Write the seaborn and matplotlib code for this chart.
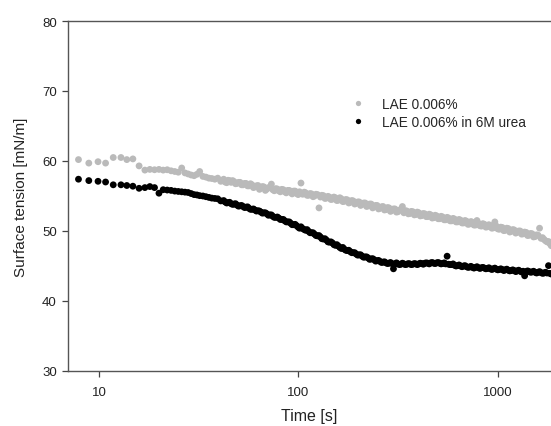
import numpy as np
import pandas as pd
import matplotlib
matplotlib.use("Agg")
import matplotlib.pyplot as plt
import seaborn as sns
from matplotlib.lines import Line2D

# ---- data ----
time_s = [7.9, 8.9, 9.9, 10.8, 11.8, 12.9, 13.8, 14.8, 15.9, 17.0,
          18, 19, 20, 21, 22, 23, 24, 25, 26, 27, 28, 29, 30,
          31, 32, 33.2, 34.4, 35.6, 36.8, 38.1, 39.4, 40.8, 42.2,
          43.7, 45.2, 46.8, 48.4, 50.1, 51.9, 53.7, 55.6, 57.5, 59.5,
          61.6, 63.8, 66, 68.3, 70.7, 73.2, 75.7, 78.4, 81.1, 84,
          86.9, 90, 93, 96.3, 99.7, 103, 107, 110.5, 114.4, 118.4,
          122.5, 126.8, 131, 135.8, 140.6, 145.5, 150.6, 155.8, 161.3, 167,
          172.8, 178.8, 185, 191.5, 198.3, 205, 212.4, 219.8, 227.5, 235.5,
          243.7, 252.2, 261, 270, 279.6, 289.4, 299.5, 310, 320.8, 332,
          343.6, 355.7, 368, 381, 394.4, 408.2, 422.5, 437.3, 452.6, 468.4,
          484.8, 501.8, 519.3, 537.5, 556.3, 575.8, 596, 616.8, 638.4, 660.8,
          684, 708, 732.7, 758.3, 784.9, 812.4, 840.8, 870.2, 900.7, 932.2,
          964.9, 998.7, 1033.6, 1069.8, 1107.2, 1146, 1186, 1227.6, 1270.6, 1315,
          1361, 1408.7, 1458, 1509, 1562, 1616.6, 1673, 1731.7, 1792.3, 1850]

lae = [60.2, 59.7, 59.9, 59.7, 60.5, 60.5, 60.2, 60.3, 59.3, 58.7,
       58.8, 58.75, 58.8, 58.7, 58.75, 58.6, 58.5, 58.4, 59.0, 58.3,
       58.15, 58.0, 57.9, 58.1, 58.5, 57.8, 57.7, 57.55, 57.5, 57.4,
       57.55, 57.1, 57.4, 56.9, 57.2, 57.2, 56.75, 56.95, 56.6, 56.8,
       56.45, 56.75, 56.2, 56.45, 55.95, 56.35, 55.8, 56.2, 56.7, 55.75,
       56.0, 55.6, 55.9, 55.45, 55.8, 55.3, 55.7, 55.2, 56.85, 55.55,
       55.1, 55.35, 54.9, 55.25, 53.3, 55.1, 54.65, 54.95, 54.5, 54.85,
       54.35, 54.75, 54.2, 54.5, 54.0, 54.35, 53.85, 54.15, 53.65, 54.0,
       53.5, 53.85, 53.3, 53.65, 53.15, 53.45, 53.0, 53.35, 52.8, 53.15,
       52.7, 53.0, 53.5, 52.9, 52.45, 52.8, 52.3, 52.7, 52.15, 52.5,
       52.05, 52.4, 51.85, 52.25, 51.75, 52.1, 51.6, 51.95, 51.45, 51.8,
       51.3, 51.65, 51.15, 51.5, 50.95, 51.35, 50.85, 51.5, 50.75, 51.05,
       50.55, 50.9, 50.4, 51.3, 50.3, 50.55, 50.05, 50.4, 49.85, 50.2,
       49.7, 50.0, 49.55, 49.85, 49.35, 49.65, 49.15, 49.45, 50.4, 49.05,
       48.6, 48.5, 47.9]

lae_urea = [57.4, 57.2, 57.1, 57.0, 56.6, 56.6, 56.5, 56.4, 56.1, 56.2,
            56.35, 56.2, 55.4, 55.9, 55.85, 55.8, 55.7, 55.65, 55.6, 55.55,
            55.5, 55.35, 55.2, 55.15, 55.05, 55.0, 54.9, 54.8, 54.7, 54.65,
            54.6, 54.3, 54.35, 54.0, 54.1, 53.8, 53.9, 53.55, 53.65, 53.35,
            53.45, 53.1, 53.15, 52.85, 52.85, 52.55, 52.6, 52.25, 52.3, 51.95,
            52.0, 51.65, 51.65, 51.3, 51.3, 50.9, 50.95, 50.55, 50.6, 50.2,
            50.2, 49.75, 49.75, 49.35, 49.35, 48.9, 48.9, 48.45, 48.45, 48.05,
            48.05, 47.65, 47.65, 47.25, 47.25, 46.9, 46.9, 46.55, 46.6, 46.25,
            46.3, 45.95, 46.05, 45.7, 45.8, 45.5, 45.6, 45.35, 45.5, 44.6,
            45.45, 45.2, 45.4, 45.2, 45.35, 45.2, 45.35, 45.2, 45.4, 45.25,
            45.45, 45.3, 45.5, 45.35, 45.5, 45.3, 45.45, 46.4, 45.2, 45.3,
            45.0, 45.15, 44.9, 45.05, 44.8, 44.95, 44.7, 44.9, 44.65, 44.8,
            44.6, 44.75, 44.5, 44.7, 44.45, 44.6, 44.35, 44.55, 44.3, 44.45,
            44.2, 44.4, 44.15, 43.6, 44.3, 44.1, 44.25, 44.0, 44.2, 43.95,
            44.1, 45.05, 43.85]

# additional readings in the dense part of the record
time_dense = [42.9, 44.4, 46.0, 47.6, 49.2, 51.0, 52.8, 54.6, 56.5, 58.5,
              60.5, 62.7, 64.9, 67.1, 69.5, 71.9, 74.4, 77.0, 79.7, 82.5,
              85.4, 88.4, 91.5, 94.6, 98.0, 101.3, 105, 108.7, 112.4, 116.4,
              120.4, 124.6, 128.9, 133.4, 138.2, 143, 148, 153.2, 158.5, 164.1,
              169.9, 175.8, 181.9, 188.2, 194.9, 201.6, 208.7, 216.1, 223.6, 231.5,
              239.6, 247.9, 256.6, 265.5, 274.8, 284.5, 294.4, 304.7, 315.4, 326.4,
              337.8, 349.6, 361.8, 374.4, 387.6, 401.2, 415.3, 429.8, 444.9, 460.4,
              476.5, 493.2, 510.5, 528.3, 546.8, 566, 585.8, 606.3, 627.5, 649.5,
              672.3, 695.9, 720.2, 745.4, 771.5, 798.5, 826.5, 855.4, 885.3, 916.3,
              948.4, 981.7, 1016, 1051.6, 1088.4, 1126.5, 1166, 1206.6, 1249, 1292.6,
              1337.8, 1384.7, 1433.2, 1483.3, 1535.3, 1589, 1644.6, 1702, 1761.8, 1821]

lae_dense = [57.0, 57.25, 56.95, 57.05, 56.8, 56.95, 56.6, 56.8, 56.45, 56.6,
             56.3, 56.5, 56.15, 56.3, 56.0, 56.2, 55.9, 56.05, 55.75, 55.95,
             55.6, 55.8, 55.5, 55.7, 55.35, 55.6, 55.25, 55.45, 55.1, 55.3,
             55.0, 55.2, 54.85, 55.05, 54.7, 54.85, 54.55, 54.75, 54.4, 54.6,
             54.25, 54.45, 54.1, 54.3, 53.95, 54.15, 53.8, 54.0, 53.6, 53.85,
             53.45, 53.65, 53.25, 53.5, 53.05, 53.3, 52.95, 53.15, 52.75, 53.05,
             52.6, 52.85, 52.5, 52.75, 52.35, 52.6, 52.2, 52.45, 52.05, 52.3,
             51.9, 52.15, 51.75, 52.0, 51.6, 51.85, 51.45, 51.7, 51.3, 51.55,
             51.15, 51.4, 51.0, 51.25, 50.85, 51.1, 50.7, 50.95, 50.6, 50.8,
             50.45, 50.7, 50.25, 50.5, 50.1, 50.35, 49.95, 50.15, 49.8, 50.0,
             49.6, 49.8, 49.4, 49.6, 49.2, 49.4, 48.95, 48.8, 48.45, 48.2]

lae_urea_dense = [54.15, 54.05, 53.9, 53.85, 53.7, 53.6, 53.5, 53.4, 53.25, 53.1,
                  53.0, 52.9, 52.7, 52.6, 52.45, 52.3, 52.1, 51.95, 51.85, 51.65,
                  51.45, 51.3, 51.1, 50.9, 50.75, 50.4, 50.35, 50.1, 49.95, 49.75,
                  49.55, 49.3, 49.15, 48.85, 48.7, 48.4, 48.3, 47.95, 47.85, 47.5,
                  47.4, 47.2, 47.05, 46.9, 46.7, 46.6, 46.4, 46.3, 46.15, 46.0,
                  45.9, 45.75, 45.65, 45.55, 45.45, 45.4, 45.35, 45.3, 45.3, 45.25,
                  45.3, 45.25, 45.3, 45.25, 45.3, 45.3, 45.35, 45.4, 45.4, 45.45,
                  45.4, 45.45, 45.4, 45.35, 45.3, 45.25, 45.2, 45.1, 45.05, 45.0,
                  45.0, 44.9, 44.85, 44.8, 44.8, 44.75, 44.75, 44.7, 44.65, 44.6,
                  44.6, 44.55, 44.5, 44.5, 44.45, 44.4, 44.35, 44.35, 44.3, 44.25,
                  44.25, 44.2, 44.2, 44.15, 44.1, 44.1, 44.05, 44.0, 44.0, 43.95]

series_names = ["LAE 0.006%", "LAE 0.006% in 6M urea"]
x_ticks = [10, 100, 1000]
x_tick_labels = ["10", "100", "1000"]
y_ticks = [30, 40, 50, 60, 70, 80]

t_all = time_s + time_dense
df = pd.DataFrame({
    "time": t_all * 2,
    "tension": lae + lae_dense + lae_urea + lae_urea_dense,
    "series": [series_names[0]] * len(t_all) + [series_names[1]] * len(t_all),
})

sns.set_style("ticks")
plt.rcParams["font.family"] = ["Liberation Sans", "DejaVu Sans"]

fig = plt.figure(figsize=(5.51, 4.27), dpi=100)
ax = fig.add_axes([68 / 551, 55 / 427, 1 - 68 / 551, 350 / 427])

palette = {series_names[0]: "#bababa", series_names[1]: "#000000"}
sns.scatterplot(data=df, x="time", y="tension", hue="series", palette=palette,
                hue_order=series_names, s=24, linewidth=0, edgecolor="none",
                ax=ax, legend=False, zorder=3)

ax.set_xscale("log")
ax.set_xlim(7.0, 1845)
ax.set_ylim(30, 80)
ax.set_xticks(x_ticks)
ax.set_xticklabels(x_tick_labels)
ax.xaxis.set_minor_locator(matplotlib.ticker.NullLocator())
ax.set_yticks(y_ticks)

ax.set_xlabel("Time [s]", fontsize=11.5, color="#222222", labelpad=7)
ax.set_ylabel("Surface tension [mN/m]", fontsize=11, color="#222222", labelpad=10)
ax.tick_params(axis="both", direction="out", length=4, width=0.9, colors="#444444",
               labelsize=9.5, labelcolor="#222222", pad=4)
ax.tick_params(axis="x", pad=7)

for side in ["left", "bottom", "top"]:
    ax.spines[side].set_visible(True)
    ax.spines[side].set_color("#555555")
    ax.spines[side].set_linewidth(1.0)
ax.spines["right"].set_visible(False)

handles = [Line2D([], [], marker="o", linestyle="none", markersize=3.8,
                  markerfacecolor=palette[n], markeredgecolor="none") for n in series_names]
ax.legend(handles, series_names, loc="upper left", frameon=False,
          bbox_to_anchor=(351 / 551, 1 - 98 / 427), bbox_transform=fig.transFigure,
          fontsize=9.8, handlelength=1.0, handletextpad=1.3, labelspacing=0.3,
          borderpad=0, borderaxespad=0)

fig.savefig("out.png", dpi=100)
